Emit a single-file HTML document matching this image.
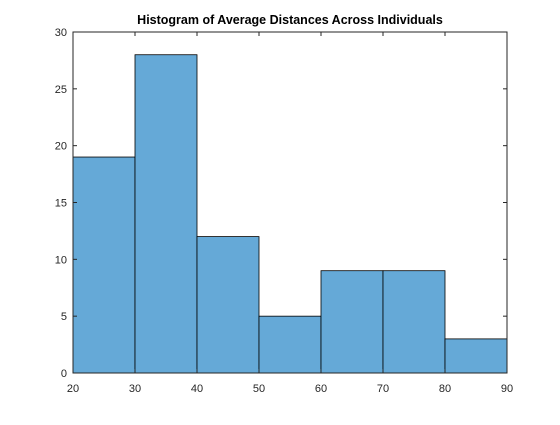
<!DOCTYPE html>
<html><head><meta charset="utf-8"><style>
body{margin:0;background:#fff;}
svg text{font-family:"Liberation Sans",Arial,sans-serif;}
</style></head><body>
<svg id="chart" width="560" height="420" xmlns="http://www.w3.org/2000/svg">
<rect width="560" height="420" fill="#fff"/>
<text x="290" y="24" text-anchor="middle" font-size="12.5" font-weight="bold" fill="#000">Histogram of Average Distances Across Individuals</text>
<g id="bars"></g>
<g id="axes"></g>
</svg>
<script>
const binEdges = [20, 30, 40, 50, 60, 70, 80, 90];
const counts = [19, 28, 12, 5, 9, 9, 3];
const xTicks = [20, 30, 40, 50, 60, 70, 80, 90];
const yTicks = [0, 5, 10, 15, 20, 25, 30];

const L = 73, R = 507, T = 32, B = 373;
const xMin = 20, xMax = 90, yMin = 0, yMax = 30;
const xs = v => L + (v - xMin) / (xMax - xMin) * (R - L);
const ys = v => B - (v - yMin) / (yMax - yMin) * (B - T);
const NS = "http://www.w3.org/2000/svg";
function mk(tag, attrs, parent) {
  const e = document.createElementNS(NS, tag);
  for (const k in attrs) e.setAttribute(k, attrs[k]);
  parent.appendChild(e);
  return e;
}
const bars = document.getElementById('bars');
const axes = document.getElementById('axes');
counts.forEach((c, i) => {
  const x0 = xs(binEdges[i]), x1 = xs(binEdges[i + 1]);
  const r = mk('rect', {x: x0, y: ys(c), width: x1 - x0, height: ys(0) - ys(c), fill: '#65a9d7', stroke: '#000', 'stroke-width': 0.8}, bars);
  
  
});
const box = mk('rect', {x: L, y: T, width: R - L, height: B - T, fill: 'none', stroke: '#262626', 'stroke-width': 1}, axes);


xTicks.forEach(v => {
  const x = xs(v);
  mk('line', {x1: x, x2: x, y1: B, y2: B - 4, stroke: '#262626'}, axes);
  mk('line', {x1: x, x2: x, y1: T, y2: T + 4, stroke: '#262626'}, axes);
  const t = mk('text', {x: x, y: 392, 'text-anchor': 'middle', 'font-size': 11, fill: '#262626'}, axes);
  t.textContent = v;
  
  
});
yTicks.forEach(v => {
  const y = ys(v);
  mk('line', {x1: L, x2: L + 4, y1: y, y2: y, stroke: '#262626'}, axes);
  mk('line', {x1: R, x2: R - 4, y1: y, y2: y, stroke: '#262626'}, axes);
  const t = mk('text', {x: L - 6, y: y + 4, 'text-anchor': 'end', 'font-size': 11, fill: '#262626'}, axes);
  t.textContent = v;
  
  
});
</script>
</body></html>
